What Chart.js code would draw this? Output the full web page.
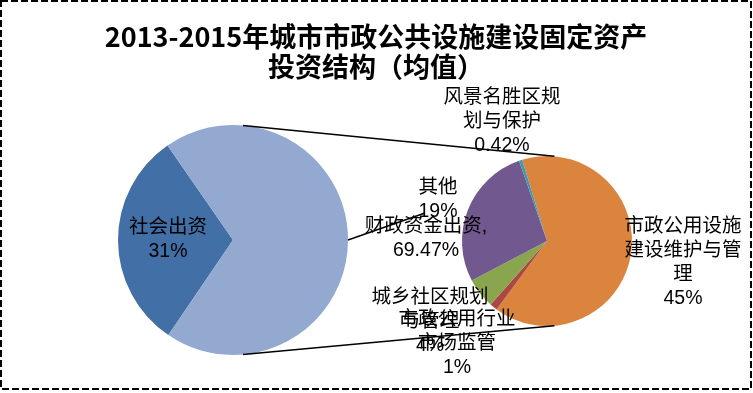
<!DOCTYPE html>
<html>
<head>
<meta charset="utf-8">
<script src="https://cdn.jsdelivr.net/npm/chart.js@4.4.0/dist/chart.umd.min.js"></script>
<style>
  body { margin: 0; background: #fff; }
  #wrap { position: relative; width: 753px; height: 393px; }
  #wrap canvas { position: absolute; left: 0; top: 0; }
</style>
</head>
<body>
<div id="wrap">
  <canvas id="mainPie" width="753" height="393"></canvas>
  <canvas id="subPie" width="753" height="393"></canvas>
</div>
<script>
// data
const titleLines = ['2013-2015年城市市政公共设施建设固定资产', '投资结构（均值）'];
const mainLabels = ['社会出资', '财政资金出资'];
const mainValues = [31, 69.47];
const subLabels = ['市政公用设施建设维护与管理', '市政公用行业市场监管', '城乡社区规划与管理', '其他', '风景名胜区规划与保护'];
const subValues = [45, 1, 4, 19, 0.42];

const mainColors = ['#416FA6', '#93A9CF'];
const subColors = ['#DB843D', '#AA4643', '#89A54E', '#71588F', '#4198AF'];

const labelFont = '19.5px "Liberation Sans", "Noto Sans CJK SC", sans-serif';
const lineH = 24;

// where excel put each label: center x, first line y
const mainLabelPos = [
    { x: 168, y: 228, wrap: 99, sep: '' },
    { x: 426, y: 227, wrap: 99, sep: ',', leader: { angle: 90, x: 425, y: 213 } }
];
const subLabelPos = [
    { x: 683, y: 227, wrap: 6 },
    { x: 457, y: 320, wrap: 6 },
    { x: 430, y: 298, wrap: 6 },
    { x: 438, y: 188, wrap: 6 },
    { x: 502, y: 98, wrap: 6 }
];

function splitName(name, n) {
    const out = [];
    for (let i = 0; i < name.length; i += n) out.push(name.slice(i, i + n));
    return out;
}

function edgePoint(arc, deg) {
    const a = deg * Math.PI / 180;
    return { x: arc.x + arc.outerRadius * Math.sin(a), y: arc.y - arc.outerRadius * Math.cos(a) };
}

function drawLabels(ctx, chart, labels, values, pos) {
    const arc = chart.getDatasetMeta(0).data[0];
    ctx.save();
    ctx.font = labelFont;
    ctx.fillStyle = '#000';
    ctx.textAlign = 'center';
    ctx.textBaseline = 'middle';
    labels.forEach((name, i) => {
        const p = pos[i];
        const lines = splitName(name, p.wrap);
        if (p.sep) lines[lines.length - 1] += p.sep;
        lines.push(values[i] + '%');
        if (p.leader) {
            const s = edgePoint(arc, p.leader.angle);
            ctx.strokeStyle = '#000';
            ctx.lineWidth = 1.5;
            ctx.beginPath();
            ctx.moveTo(s.x, s.y);
            ctx.lineTo(p.leader.x, p.leader.y);
            ctx.stroke();
        }
        lines.forEach((t, k) => ctx.fillText(t, p.x, p.y + k * lineH));
    });
    ctx.restore();
}

const baseOptions = {
    responsive: false,
    devicePixelRatio: 1,
    animation: false,
    events: [],
    plugins: { legend: { display: false }, tooltip: { enabled: false } }
};

const mainChart = new Chart(document.getElementById('mainPie'), {
    type: 'pie',
    data: {
        labels: mainLabels,
        datasets: [{ data: mainValues, backgroundColor: mainColors, borderWidth: 0, hoverOffset: 0 }]
    },
    options: Object.assign({}, baseOptions, {
        rotation: 214.2,
        layout: { padding: { left: 118, top: 125, right: 405, bottom: 38 } }
    })
});

const subChart = new Chart(document.getElementById('subPie'), {
    type: 'pie',
    data: {
        labels: subLabels,
        datasets: [{ data: subValues, backgroundColor: subColors, borderWidth: 0, hoverOffset: 0 }]
    },
    options: Object.assign({}, baseOptions, {
        rotation: 343,
        layout: { padding: { left: 462, top: 156, right: 121, bottom: 67 } }
    }),
    plugins: [{
        id: 'pieOfPie',
        afterDraw(chart) {
            const ctx = chart.ctx;
            const a = mainChart.getDatasetMeta(0).data[0];
            const b = chart.getDatasetMeta(0).data[0];
            // connector lines
            ctx.save();
            ctx.strokeStyle = '#000';
            ctx.lineWidth = 1.5;
            [5, 175].forEach(deg => {
                const p = edgePoint(a, deg), q = edgePoint(b, deg);
                ctx.beginPath();
                ctx.moveTo(p.x, p.y);
                ctx.lineTo(q.x, q.y);
                ctx.stroke();
            });
            ctx.restore();

            // labels sit on top of both pies
            drawLabels(ctx, mainChart, mainLabels, mainValues, mainLabelPos);
            drawLabels(ctx, chart, subLabels, subValues, subLabelPos);

            // title
            ctx.save();
            ctx.font = 'bold 27px "Noto Sans CJK SC", sans-serif';
            ctx.fillStyle = '#000';
            ctx.textAlign = 'center';
            ctx.textBaseline = 'middle';
            titleLines.forEach((t, k) => ctx.fillText(t, 376, 37 + k * 30));
            ctx.restore();

            // dashed frame
            ctx.save();
            ctx.strokeStyle = '#000';
            ctx.lineWidth = 2;
            ctx.setLineDash([7, 3]);
            ctx.strokeRect(1, 1, 750, 388);
            ctx.restore();
        }
    }]
});
</script>
</body>
</html>
